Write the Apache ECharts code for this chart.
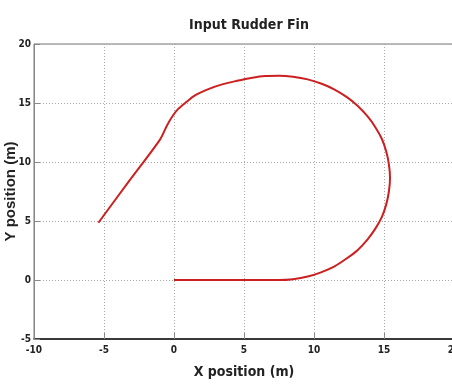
<!DOCTYPE html>
<html>
<head>
<meta charset="utf-8">
<script src="https://cdn.jsdelivr.net/npm/echarts@6/dist/echarts.min.js"></script>
<style>
  html, body { margin: 0; padding: 0; background: #fff; }
  #chart { width: 452px; height: 385px; }
</style>
</head>
<body>
<div id="chart"></div>
<script>
// path, (x, y) in metres
var xs = [0, 4, 7.5, 8.5, 9.55, 10.5, 11.47, 12.3, 13.11, 13.8, 14.37, 14.85, 15.16, 15.35, 15.43, 15.35, 15.16, 14.85, 14.37, 13.8, 13.11, 12.35, 11.47, 10.55, 9.55, 8.5, 7.5, 6.5, 5.5, 4.5, 3.5, 2.5, 1.5, 0.9, 0.3, -0.1, -0.5, -1.0, -3.2, -5.4]
var ys = [0, 0, 0, 0.07, 0.29, 0.65, 1.16, 1.8, 2.53, 3.4, 4.33, 5.35, 6.41, 7.5, 8.65, 9.8, 10.89, 11.95, 12.97, 13.9, 14.77, 15.5, 16.14, 16.63, 17.0, 17.22, 17.3, 17.28, 17.12, 16.88, 16.6, 16.2, 15.65, 15.1, 14.5, 13.9, 13.1, 11.9, 8.4, 4.85]
var xTicks = [-10, 20, 5]
var yTicks = [-5, 20, 5]

var narrow = '"Liberation Sans Narrow", "DejaVu Sans Condensed", sans-serif'

var chart = echarts.init(document.getElementById('chart'))

var path = xs.map(function (x, i) { return [x, ys[i]] })

chart.setOption({
  animation: false,
  title: {
    text: 'Input Rudder Fin',
    left: 244,
    top: 13,
    textAlign: 'center',
    textStyle: { fontFamily: narrow, fontWeight: 'bold', fontSize: 14, color: '#222' }
  },
  grid: {
    left: 34,
    top: 44,
    width: 420,
    height: 295,
    outerBoundsMode: 'none',
    containLabel: false,
    show: true,
    borderColor: '#777',
    borderWidth: 1
  },
  xAxis: {
    type: 'value',
    min: xTicks[0],
    max: xTicks[1],
    interval: xTicks[2],
    name: 'X position (m)',
    nameLocation: 'middle',
    nameGap: 26,
    nameMoveOverlap: false,
    nameTextStyle: { fontFamily: narrow, fontWeight: 'bold', fontSize: 14, color: '#222' },
    axisLine: { onZero: false, lineStyle: { color: '#111', width: 1.5 } },
    axisTick: { inside: true, length: 6, lineStyle: { color: '#888' } },
    axisLabel: { fontFamily: narrow, fontWeight: 'bold', fontSize: 10, color: '#222', margin: 6, showMaxLabel: true },
    splitLine: { lineStyle: { color: '#aaa', type: [1, 2] } }
  },
  yAxis: {
    type: 'value',
    min: yTicks[0],
    max: yTicks[1],
    interval: yTicks[2],
    name: 'Y position (m)',
    nameLocation: 'middle',
    nameGap: 16,
    nameMoveOverlap: false,
    nameTextStyle: { fontFamily: 'Liberation Sans, Arial, sans-serif', fontWeight: 'bold', fontSize: 15, color: '#222' },
    axisLine: { show: true, onZero: false, lineStyle: { color: '#888', width: 1 } },
    axisTick: { show: true, inside: true, length: 6, lineStyle: { color: '#888' } },
    axisLabel: { fontFamily: narrow, fontWeight: 'bold', fontSize: 10, color: '#222', margin: 3 },
    splitLine: { lineStyle: { color: '#aaa', type: [1, 2] } }
  },
  series: [{
    type: 'line',
    data: path,
    showSymbol: false,
    smooth: 0.3,
    lineStyle: { color: '#cc1f1f', width: 2 }
  }]
})
</script>
</body>
</html>
